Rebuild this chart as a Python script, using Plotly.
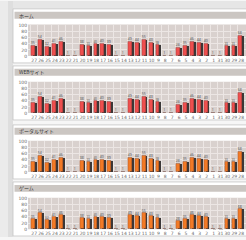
import plotly.graph_objects as go

W, H = 246, 240

days = [27, 26, 25, 24, 23, 22, 21, 20, 19, 18, 17, 16, 15, 14, 13, 12, 11, 10,
        9, 8, 7, 6, 5, 4, 3, 2, 1, 31, 30, 29, 28]
home_vals = [35, 54, 32, 41, 46, 1, 1, 38, 33, 40, 40, 39, 1, 1, 49, 44, 55, 43, 38,
             1, 1, 28, 35, 46, 44, 40, 1, 1, 33, 33, 68]
web_vals = [35, 54, 32, 41, 46, 1, 1, 38, 33, 40, 40, 39, 1, 1, 49, 44, 55, 43, 38,
            1, 1, 28, 35, 46, 44, 40, 1, 1, 33, 33, 68]
portal_vals = [35, 54, 32, 41, 46, 1, 1, 38, 33, 40, 40, 39, 1, 1, 49, 44, 55, 43, 38,
               1, 1, 28, 35, 46, 44, 40, 1, 1, 33, 33, 68]
game_vals = [35, 54, 32, 41, 46, 1, 1, 38, 33, 40, 40, 39, 1, 1, 49, 44, 55, 43, 38,
             1, 1, 28, 35, 46, 44, 40, 1, 1, 33, 33, 68]
titles = ["ホーム", "WEBサイト", "ポータルサイト", "ゲーム"]
y_ticks = [0, 20, 40, 60, 80, 100]

RED = "#ee4f4f"
ORANGE = "#f27a26"
panels = [(titles[0], home_vals, RED), (titles[1], web_vals, RED),
          (titles[2], portal_vals, ORANGE), (titles[3], game_vals, ORANGE)]
tops = [8, 66, 126, 184]

idx = list(range(len(days)))


def px(x):
    return x / W


def py(y):
    return 1 - y / H


fig = go.Figure()
shapes = []
annotations = []
layout_axes = {}

# page background / left shadow
shapes.append(dict(type="rect", xref="paper", yref="paper", x0=0, x1=px(13), y0=0, y1=1,
                   fillcolor="#ebebeb", line_width=0, layer="below"))
shapes.append(dict(type="rect", xref="paper", yref="paper", x0=px(8), x1=px(13), y0=0, y1=1,
                   fillcolor="#dedede", line_width=0, layer="below"))
shapes.append(dict(type="rect", xref="paper", yref="paper", x0=px(13), x1=1, y0=py(8), y1=1,
                   fillcolor="#e6e6e6", line_width=0, layer="below"))

for k, (title, vals, color) in enumerate(panels):
    Y0 = tops[k]
    s = "" if k == 0 else str(k + 1)
    shapes.append(dict(type="rect", xref="paper", yref="paper", x0=px(13), x1=1.05,
                       y0=py(Y0 + 55), y1=py(Y0), fillcolor="white",
                       line=dict(color="#c4c4c4", width=0.8), layer="below"))
    shapes.append(dict(type="rect", xref="paper", yref="paper", x0=px(14.5), x1=1.05,
                       y0=py(Y0 + 10), y1=py(Y0 + 3), fillcolor="#cbc6c2",
                       line_width=0, layer="below"))
    shapes.append(dict(type="rect", xref="paper", yref="paper", x0=px(28), x1=1.0,
                       y0=py(Y0 + 48), y1=py(Y0 + 16), fillcolor="#d9d1ce",
                       line_width=0, layer="below"))
    annotations.append(dict(text=title, xref="paper", yref="paper", x=px(17), y=py(Y0 + 6.5),
                            xanchor="left", yanchor="middle", showarrow=False,
                            font=dict(size=5, color="#333333", family="Noto Sans CJK JP")))

    fig.add_trace(go.Bar(x=idx, y=vals, width=0.55, offset=-0.15, marker_color="#3b3838",
                         marker_line_width=0, xaxis="x" + s, yaxis="y" + s,
                         hoverinfo="skip", showlegend=False))
    fig.add_trace(go.Bar(x=idx, y=vals, width=0.55, offset=-0.4,
                         marker=dict(color=color, line=dict(color="#5a2a20", width=0.3)),
                         text=[str(v) for v in vals], textposition="outside",
                         textfont=dict(size=3.5, color="#444444"), cliponaxis=False,
                         xaxis="x" + s, yaxis="y" + s, showlegend=False))

    layout_axes["xaxis" + s] = dict(
        domain=[px(28), 1.0], range=[-0.9, 30.7], anchor="y" + s,
        tickmode="array", tickvals=idx, ticktext=[str(d) for d in days],
        tickfont=dict(size=4.5, color="#666666", family="DejaVu Sans"),
        showgrid=False, zeroline=False, showline=False, ticks="", ticklen=0,
        tickangle=0, fixedrange=True,
        minor=dict(tickmode="array", tickvals=[i - 0.5 for i in idx],
                   showgrid=True, gridcolor="#ece6e4", gridwidth=0.6, ticks=""),
    )
    layout_axes["yaxis" + s] = dict(
        domain=[py(Y0 + 48), py(Y0 + 16)], range=[0, 103], anchor="x" + s,
        tickmode="array", tickvals=y_ticks,
        tickfont=dict(size=4.5, color="#666666", family="DejaVu Sans"),
        showgrid=True, gridcolor="#ece6e4", gridwidth=0.6, zeroline=False,
        showline=False, ticks="", fixedrange=True,
    )

fig.update_layout(
    width=W, height=H, margin=dict(l=0, r=0, t=0, b=0),
    paper_bgcolor="#f6f6f6", plot_bgcolor="rgba(0,0,0,0)",
    barmode="overlay", bargap=0, shapes=shapes, annotations=annotations,
    showlegend=False, **layout_axes,
)

fig.write_html(
    "out.html",
    config={"displayModeBar": False},
    post_script="document.body.style.margin='0';document.body.style.padding='0';"
                "document.body.style.overflow='hidden';"
                "document.documentElement.style.overflow='hidden';",
)
